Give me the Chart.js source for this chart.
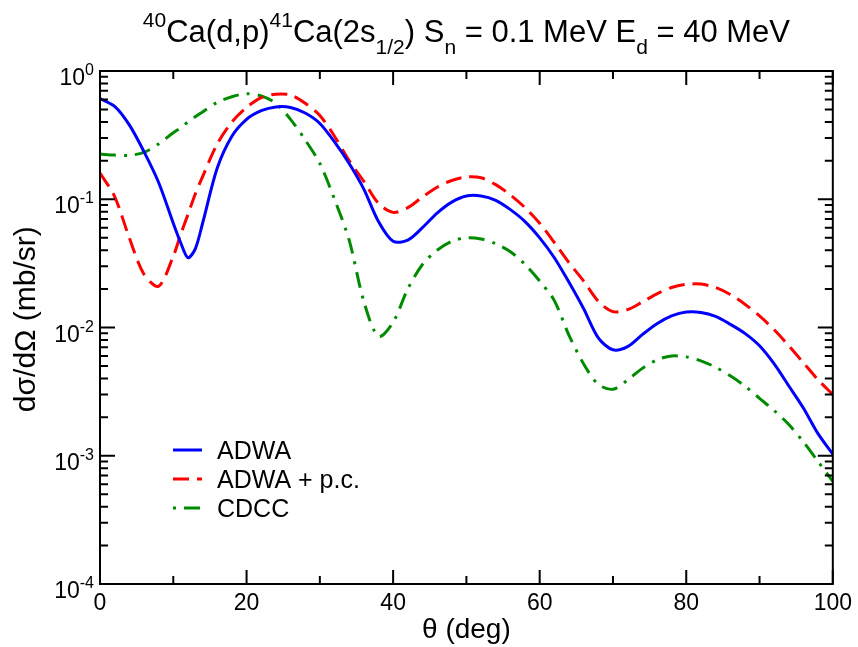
<!DOCTYPE html>
<html>
<head>
<meta charset="utf-8">
<script src="https://cdn.jsdelivr.net/npm/chart.js@4/dist/chart.umd.min.js"></script>
<style>
  html, body { margin: 0; padding: 0; background: #fff; }
  #wrap { width: 858px; height: 647px; position: relative; }
</style>
</head>
<body>
<div id="wrap"><canvas id="xsChart"></canvas></div>
<script>
// scattering angle (deg)
const ANGLES = [0, 2, 4, 6, 8, 10, 11, 12, 13, 14,
  16, 18, 20, 22, 24, 26, 28, 30, 32, 34, 36, 38, 40, 42, 44, 46, 48, 50,
  52, 54, 56, 58, 60, 62, 64, 66, 68, 70, 72, 74, 76, 78, 80, 82, 84, 86,
  88, 90, 92, 94, 96, 98, 100];

// d(sigma)/d(Omega) in mb/sr
const ADWA = [0.61, 0.53, 0.38, 0.235, 0.135, 0.065, 0.046, 0.035, 0.041, 0.065,
  0.175, 0.31, 0.42, 0.49, 0.525, 0.52, 0.47, 0.39, 0.28, 0.19, 0.12, 0.067, 0.047, 0.048, 0.060, 0.078, 0.095, 0.106,
  0.106, 0.098, 0.083, 0.067, 0.050, 0.035, 0.0225, 0.014, 0.0083, 0.0067, 0.0071, 0.0088, 0.0107, 0.0123, 0.0132, 0.0131, 0.0122, 0.0106,
  0.0090, 0.0072, 0.0052, 0.0035, 0.00235, 0.00148, 0.00103];

const ADWA_PC = [0.16, 0.105, 0.05, 0.026, 0.021, 0.036, 0.053, 0.076, 0.11, 0.15,
  0.27, 0.40, 0.52, 0.62, 0.66, 0.65, 0.56, 0.45, 0.31, 0.20, 0.138, 0.093, 0.079, 0.086, 0.104, 0.124, 0.140, 0.149,
  0.147, 0.130, 0.108, 0.086, 0.065, 0.046, 0.032, 0.023, 0.016, 0.0133, 0.0138, 0.0158, 0.0183, 0.0205, 0.0217, 0.0218, 0.0205, 0.0181,
  0.0152, 0.0123, 0.0096, 0.0072, 0.0053, 0.0039, 0.0030];

const CDCC = [0.225, 0.221, 0.220, 0.232, 0.27, 0.33, 0.36, 0.40, 0.44, 0.48,
  0.57, 0.63, 0.665, 0.64, 0.56, 0.42, 0.29, 0.19, 0.10, 0.048, 0.016, 0.0085, 0.011, 0.020, 0.031, 0.040, 0.047, 0.050,
  0.049, 0.045, 0.039, 0.031, 0.023, 0.0162, 0.0087, 0.0052, 0.0036, 0.0033, 0.0039, 0.0048, 0.0056, 0.0060, 0.0059, 0.0055, 0.0049, 0.0042,
  0.0035, 0.0028, 0.00225, 0.00175, 0.00128, 0.00090, 0.00063];

const SERIES_NAMES = ['ADWA', 'ADWA + p.c.', 'CDCC'];
const Y_DECADES = [0, -1, -2, -3, -4];

const FONT = '"Liberation Sans", Arial, Helvetica, sans-serif';
Chart.defaults.font.family = FONT;
Chart.defaults.color = '#000';

function toPoints(values) {
  return ANGLES.map((a, i) => ({ x: a, y: values[i] }));
}

// title with super/subscripts, drawn as runs of text
const TITLE_RUNS = [
  ['40', 'sup'], ['Ca(d,p)', 'n'], ['41', 'sup'], ['Ca(2s', 'n'], ['1/2', 'sub'],
  [') S', 'n'], ['n', 'sub'], [' = 0.1 MeV E', 'n'], ['d', 'sub'], [' = 40 MeV', 'n']
];

function runFont(kind) {
  return kind === 'n' ? '31px ' + FONT : '21px ' + FONT;
}
function runShift(kind) {
  if (kind === 'sup') return -15;
  if (kind === 'sub') return 12;
  return 0;
}

const decorPlugin = {
  id: 'decor',
  afterDraw(chart) {
    const ctx = chart.ctx;
    const area = chart.chartArea;
    const xs = chart.scales.x;
    const ys = chart.scales.y;
    ctx.save();

    // title
    ctx.fillStyle = '#000';
    ctx.textBaseline = 'alphabetic';
    ctx.textAlign = 'left';
    let total = 0;
    TITLE_RUNS.forEach(([t, k]) => { ctx.font = runFont(k); total += ctx.measureText(t).width; });
    let tx = (area.left + area.right) / 2 - total / 2;
    const baseY = 42;
    TITLE_RUNS.forEach(([t, k]) => {
      ctx.font = runFont(k);
      ctx.fillText(t, tx, baseY + runShift(k));
      tx += ctx.measureText(t).width;
    });

    // frame
    ctx.strokeStyle = '#000';
    ctx.lineWidth = 2;
    ctx.strokeRect(area.left, area.top, area.right - area.left, area.bottom - area.top);

    // inward ticks on all four sides
    ctx.beginPath();
    for (let v = 0; v <= 100; v += 10) {
      const px = xs.getPixelForValue(v);
      const len = v % 20 === 0 ? 14 : 8;
      ctx.moveTo(px, area.bottom); ctx.lineTo(px, area.bottom - len);
      ctx.moveTo(px, area.top); ctx.lineTo(px, area.top + len);
    }
    Y_DECADES.forEach(e => {
      const py = ys.getPixelForValue(Math.pow(10, e));
      ctx.moveTo(area.left, py); ctx.lineTo(area.left + 15, py);
      ctx.moveTo(area.right, py); ctx.lineTo(area.right - 15, py);
      if (e > -4) {
        for (let m = 2; m <= 9; m++) {
          const pm = ys.getPixelForValue(m * Math.pow(10, e - 1));
          ctx.moveTo(area.left, pm); ctx.lineTo(area.left + 8, pm);
          ctx.moveTo(area.right, pm); ctx.lineTo(area.right - 8, pm);
        }
      }
    });
    ctx.stroke();

    // y tick labels 10^n
    Y_DECADES.forEach(e => {
      const py = ys.getPixelForValue(Math.pow(10, e));
      const exp = String(e);
      ctx.font = '16px ' + FONT;
      const ew = ctx.measureText(exp).width;
      ctx.font = '23px ' + FONT;
      const bw = ctx.measureText('10').width;
      const right = area.left - 6;
      const x0 = right - ew - bw;
      ctx.fillText('10', x0, py + 14);
      ctx.font = '16px ' + FONT;
      ctx.fillText(exp, x0 + bw, py + 4);
    });

    // legend
    const rows = [450, 479, 508];
    chart.data.datasets.forEach((ds, i) => {
      const y = rows[i];
      ctx.save();
      ctx.strokeStyle = ds.borderColor;
      ctx.lineWidth = ds.borderWidth;
      ctx.setLineDash(ds.borderDash || []);
      ctx.lineDashOffset = ds.legendDashOffset || 0;
      ctx.beginPath();
      ctx.moveTo(173, y); ctx.lineTo(202, y);
      ctx.stroke();
      ctx.restore();
      ctx.font = '25px ' + FONT;
      ctx.fillStyle = '#000';
      ctx.fillText(ds.label, 217, y + 9);
    });

    ctx.restore();
  }
};

function initChart() {
  const ctx = document.getElementById('xsChart').getContext('2d');
  new Chart(ctx, {
    type: 'line',
    data: {
      datasets: [
        {
          label: SERIES_NAMES[0],
          data: toPoints(ADWA),
          borderColor: '#0000ff',
          borderWidth: 3
        },
        {
          label: SERIES_NAMES[1],
          data: toPoints(ADWA_PC),
          borderColor: '#ff0000',
          borderWidth: 3,
          borderDash: [16, 8]
        },
        {
          label: SERIES_NAMES[2],
          data: toPoints(CDCC),
          borderColor: '#008b00',
          borderWidth: 3,
          borderDash: [16, 8, 3, 8],
          legendDashOffset: 24
        }
      ]
    },
    options: {
      responsive: true,
      maintainAspectRatio: false,
      animation: false,
      events: [],
      elements: {
        point: { radius: 0 },
        line: { tension: 0.3, borderCapStyle: 'butt', fill: false }
      },
      layout: { padding: { top: 71, right: 24, left: 0, bottom: 0 } },
      plugins: {
        legend: { display: false },
        title: { display: false },
        tooltip: { enabled: false }
      },
      scales: {
        x: {
          type: 'linear',
          min: 0,
          max: 100,
          grid: { display: false, drawTicks: false },
          border: { display: false },
          ticks: {
            stepSize: 20,
            padding: 6,
            font: { size: 23 },
            color: '#000',
            maxRotation: 0
          },
          title: {
            display: true,
            text: 'θ (deg)',
            font: { size: 28 },
            color: '#000',
            padding: { top: 0, bottom: 0 }
          },
          afterFit: s => { s.height = 63; }
        },
        y: {
          type: 'logarithmic',
          min: 1e-4,
          max: 1,
          grid: { display: false, drawTicks: false },
          border: { display: false },
          ticks: { display: false },
          title: {
            display: true,
            text: '  dσ/dΩ (mb/sr)',
            font: { size: 30 },
            color: '#000',
            padding: { top: 9, bottom: 0 }
          },
          afterFit: s => { s.width = 100; }
        }
      }
    },
    plugins: [decorPlugin]
  });
}

initChart();
</script>
</body>
</html>
